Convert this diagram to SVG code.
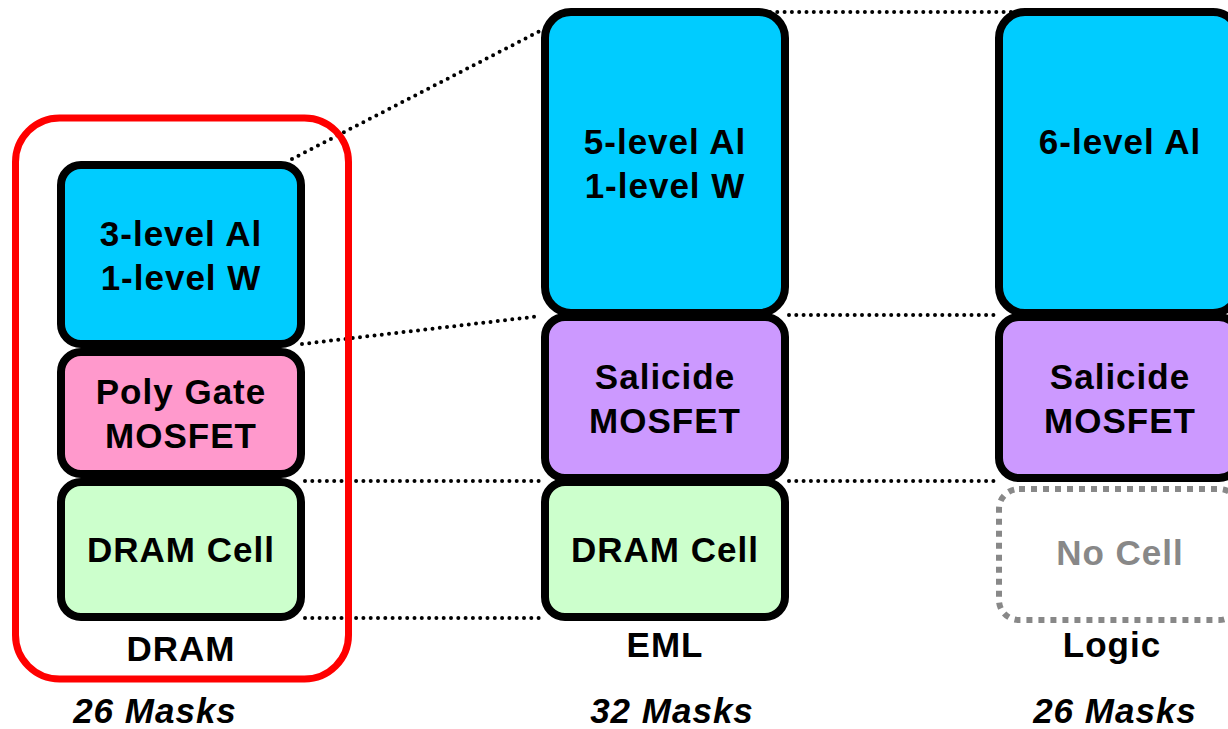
<svg xmlns="http://www.w3.org/2000/svg" width="1228" height="729" viewBox="0 0 1228 729">
<style>
.box{stroke:#000;stroke-width:8}
.blue{fill:#00CCFF}
.pink{fill:#FF99CC}
.green{fill:#CCFFCC}
.purple{fill:#CC99FF}
.t{font-family:"Liberation Sans",Arial,sans-serif;font-weight:bold;font-size:35px;letter-spacing:1px;text-anchor:middle;fill:#000}
.m{font-style:italic}
.g{fill:#888}
.dot{fill:none;stroke:#000;stroke-width:4;stroke-linecap:round;stroke-dasharray:0 7.3}
</style>
<rect x="0" y="0" width="1228" height="729" fill="#fff"/>
<g id="connectors">
<line class="dot" x1="292" y1="159" x2="540" y2="31"/>
<line class="dot" x1="770" y1="12" x2="1012" y2="12"/>
<line class="dot" x1="302" y1="344" x2="541" y2="316"/>
<line class="dot" x1="789" y1="315" x2="999" y2="315"/>
<line class="dot" x1="305" y1="481" x2="541" y2="481"/>
<line class="dot" x1="789" y1="481" x2="999" y2="481"/>
<line class="dot" x1="305" y1="618" x2="541" y2="618"/>
</g>
<g id="dram-group">
<rect x="15.5" y="118" width="333" height="561" rx="44" fill="none" stroke="#FF0000" stroke-width="7"/>
</g>
<g id="dram-metal">
<rect class="box blue" x="61" y="165" width="240" height="179" rx="20"/>
<text class="t" x="181" y="246">3-level Al</text>
<text class="t" x="181" y="290">1-level W</text>
</g>
<g id="dram-mosfet">
<rect class="box pink" x="61" y="352" width="240" height="122" rx="20"/>
<text class="t" x="181" y="404">Poly Gate</text>
<text class="t" x="181" y="448">MOSFET</text>
</g>
<g id="dram-cell">
<rect class="box green" x="61" y="482" width="240" height="135" rx="20"/>
<text class="t" x="181" y="562">DRAM Cell</text>
</g>
<text class="t" x="181" y="661">DRAM</text>
<text class="t m" x="155" y="723">26 Masks</text>
<g id="eml-metal">
<rect class="box blue" x="545" y="12" width="240" height="301" rx="26"/>
<text class="t" x="665" y="154">5-level Al</text>
<text class="t" x="665" y="198">1-level W</text>
</g>
<g id="eml-mosfet">
<rect class="box purple" x="545" y="317" width="240" height="161" rx="20"/>
<text class="t" x="665" y="389">Salicide</text>
<text class="t" x="665" y="433">MOSFET</text>
</g>
<g id="eml-cell">
<rect class="box green" x="545" y="482" width="240" height="135" rx="20"/>
<text class="t" x="665" y="562">DRAM Cell</text>
</g>
<text class="t" x="665" y="657">EML</text>
<text class="t m" x="672" y="723">32 Masks</text>
<g id="logic-metal">
<rect class="box blue" x="999" y="12" width="240" height="301" rx="26"/>
<text class="t" x="1120" y="154">6-level Al</text>
</g>
<g id="logic-mosfet">
<rect class="box purple" x="999" y="317" width="240" height="161" rx="20"/>
<text class="t" x="1120" y="389">Salicide</text>
<text class="t" x="1120" y="433">MOSFET</text>
</g>
<g id="logic-nocell">
<rect x="999" y="489" width="240" height="131" rx="20" fill="none" stroke="#888" stroke-width="6" stroke-dasharray="6 6"/>
<text class="t g" x="1120" y="565">No Cell</text>
</g>
<text class="t" x="1112" y="657">Logic</text>
<text class="t m" x="1115" y="723">26 Masks</text>
</svg>
